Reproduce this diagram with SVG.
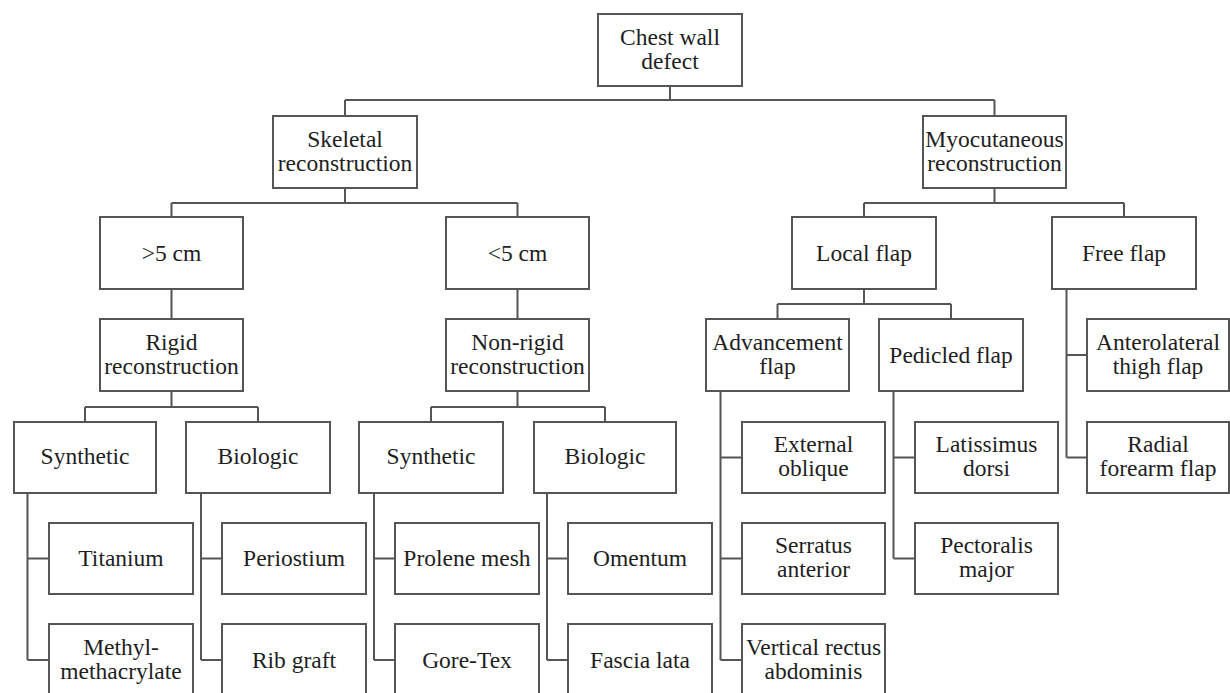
<svg xmlns="http://www.w3.org/2000/svg" width="1230" height="693" viewBox="0 0 1230 693">
<style>
.b{fill:#fff;stroke:#555;stroke-width:2}
.t{font-family:"Liberation Serif","Times New Roman",serif;font-size:23.5px;fill:#1e1e1e;text-anchor:middle}
.c{fill:none;stroke:#555;stroke-width:2}
</style>
<rect width="1230" height="693" fill="#fff"/>
<g id="connectors">
<path class="c" d="M670,86V100M345,100H994.5M345,100V116M994.5,100V116"/>
<path class="c" d="M345,188V203M171.5,203H517.5M171.5,203V217M517.5,203V217"/>
<path class="c" d="M994.5,188V203M864,203H1124M864,203V217M1124,203V217"/>
<path class="c" d="M171.5,289V319M517.5,289V319"/>
<path class="c" d="M171.5,391V407M85,407H258M85,407V422M258,407V422"/>
<path class="c" d="M517.5,391V407M431,407H605M431,407V422M605,407V422"/>
<path class="c" d="M864,289V304M777.5,304H951M777.5,304V319M951,304V319"/>
<path class="c" d="M27.5,493V660M27.5,558.5H49M27.5,660H49"/>
<path class="c" d="M201,493V660M201,558.5H222M201,660H222"/>
<path class="c" d="M374,493V660M374,558.5H395M374,660H395"/>
<path class="c" d="M547,493V660M547,558.5H568M547,660H568"/>
<path class="c" d="M720.5,391V660M720.5,457.5H742M720.5,558.5H742M720.5,660H742"/>
<path class="c" d="M893.5,391V558.5M893.5,457.5H915M893.5,558.5H915"/>
<path class="c" d="M1066.5,289V457.5M1066.5,355H1087M1066.5,457.5H1087"/>
</g>
<g id="n-chest"><rect class="b" x="598" y="14" width="144" height="72"/><text class="t" x="670" y="45">Chest wall</text><text class="t" x="670" y="69">defect</text></g>
<g id="n-skeletal"><rect class="b" x="273" y="116" width="144" height="72"/><text class="t" x="345" y="147">Skeletal</text><text class="t" x="345" y="171">reconstruction</text></g>
<g id="n-myo"><rect class="b" x="923" y="116" width="143" height="72"/><text class="t" x="994.5" y="147">Myocutaneous</text><text class="t" x="994.5" y="171">reconstruction</text></g>
<g id="n-gt5"><rect class="b" x="100" y="217" width="143" height="72"/><text class="t" x="171.5" y="261">&gt;5 cm</text></g>
<g id="n-lt5"><rect class="b" x="446" y="217" width="143" height="72"/><text class="t" x="517.5" y="261">&lt;5 cm</text></g>
<g id="n-local"><rect class="b" x="792" y="217" width="144" height="72"/><text class="t" x="864" y="261">Local flap</text></g>
<g id="n-free"><rect class="b" x="1052" y="217" width="144" height="72"/><text class="t" x="1124" y="261">Free flap</text></g>
<g id="n-rigid"><rect class="b" x="100" y="319" width="143" height="72"/><text class="t" x="171.5" y="350">Rigid</text><text class="t" x="171.5" y="374">reconstruction</text></g>
<g id="n-nonrigid"><rect class="b" x="446" y="319" width="143" height="72"/><text class="t" x="517.5" y="350">Non-rigid</text><text class="t" x="517.5" y="374">reconstruction</text></g>
<g id="n-adv"><rect class="b" x="706" y="319" width="143" height="72"/><text class="t" x="777.5" y="350">Advancement</text><text class="t" x="777.5" y="374">flap</text></g>
<g id="n-ped"><rect class="b" x="879" y="319" width="144" height="72"/><text class="t" x="951" y="363">Pedicled flap</text></g>
<g id="n-alt"><rect class="b" x="1087" y="319" width="142" height="72"/><text class="t" x="1158" y="350">Anterolateral</text><text class="t" x="1158" y="374">thigh flap</text></g>
<g id="n-syn1"><rect class="b" x="14" y="422" width="142" height="71"/><text class="t" x="85" y="464">Synthetic</text></g>
<g id="n-bio1"><rect class="b" x="186" y="422" width="144" height="71"/><text class="t" x="258" y="464">Biologic</text></g>
<g id="n-syn2"><rect class="b" x="359" y="422" width="144" height="71"/><text class="t" x="431" y="464">Synthetic</text></g>
<g id="n-bio2"><rect class="b" x="534" y="422" width="142" height="71"/><text class="t" x="605" y="464">Biologic</text></g>
<g id="n-extobl"><rect class="b" x="742" y="422" width="143" height="71"/><text class="t" x="813.5" y="452">External</text><text class="t" x="813.5" y="476">oblique</text></g>
<g id="n-lat"><rect class="b" x="915" y="422" width="143" height="71"/><text class="t" x="986.5" y="452">Latissimus</text><text class="t" x="986.5" y="476">dorsi</text></g>
<g id="n-radial"><rect class="b" x="1087" y="422" width="142" height="71"/><text class="t" x="1158" y="452">Radial</text><text class="t" x="1158" y="476">forearm flap</text></g>
<g id="n-titanium"><rect class="b" x="49" y="523" width="144" height="71"/><text class="t" x="121" y="566">Titanium</text></g>
<g id="n-periost"><rect class="b" x="222" y="523" width="144" height="71"/><text class="t" x="294" y="566">Periostium</text></g>
<g id="n-prolene"><rect class="b" x="395" y="523" width="144" height="71"/><text class="t" x="467" y="566">Prolene mesh</text></g>
<g id="n-omentum"><rect class="b" x="568" y="523" width="144" height="71"/><text class="t" x="640" y="566">Omentum</text></g>
<g id="n-serratus"><rect class="b" x="742" y="523" width="143" height="71"/><text class="t" x="813.5" y="553">Serratus</text><text class="t" x="813.5" y="577">anterior</text></g>
<g id="n-pect"><rect class="b" x="915" y="523" width="143" height="71"/><text class="t" x="986.5" y="553">Pectoralis</text><text class="t" x="986.5" y="577">major</text></g>
<g id="n-methyl"><rect class="b" x="49" y="624" width="144" height="72"/><text class="t" x="121" y="655">Methyl-</text><text class="t" x="121" y="679">methacrylate</text></g>
<g id="n-rib"><rect class="b" x="222" y="624" width="144" height="72"/><text class="t" x="294" y="668">Rib graft</text></g>
<g id="n-gore"><rect class="b" x="395" y="624" width="144" height="72"/><text class="t" x="467" y="668">Gore-Tex</text></g>
<g id="n-fascia"><rect class="b" x="568" y="624" width="144" height="72"/><text class="t" x="640" y="668">Fascia lata</text></g>
<g id="n-vra"><rect class="b" x="742" y="624" width="143" height="72"/><text class="t" x="813.5" y="655">Vertical rectus</text><text class="t" x="813.5" y="679">abdominis</text></g>
</svg>
